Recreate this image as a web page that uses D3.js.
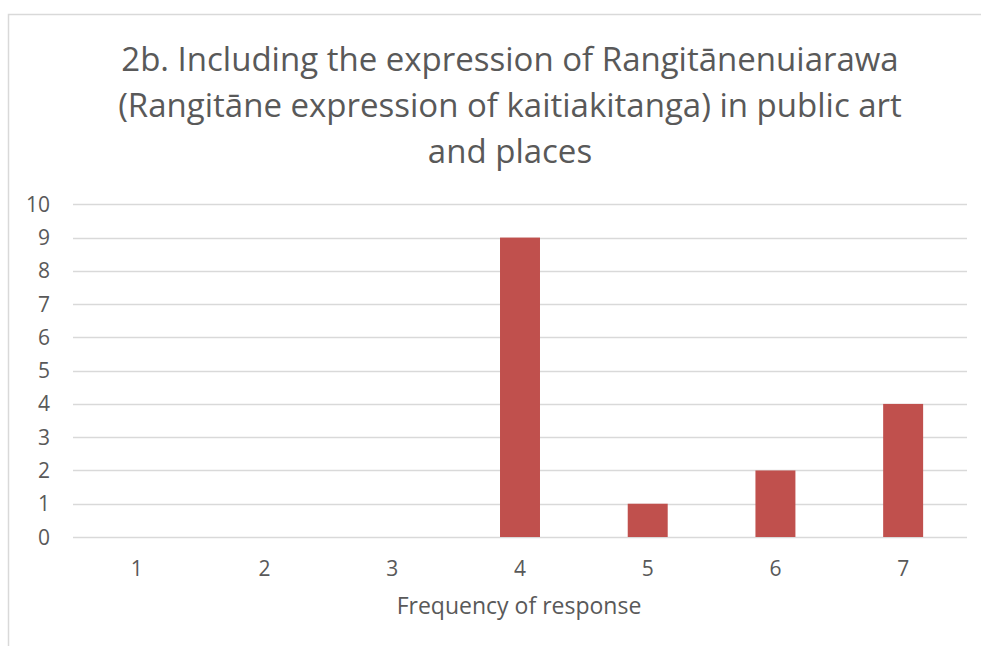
<!DOCTYPE html>
<html><head><meta charset="utf-8">
<script src="https://cdn.jsdelivr.net/npm/d3@7"></script>
<style>body{margin:0;background:#fff;} text{font-family:"Open Sans",sans-serif;fill:#595959;}</style>
</head><body>
<svg id="c" width="981" height="646"></svg>
<script>
const categories = ["1","2","3","4","5","6","7"];
const values = [0,0,0,9,1,2,4];
const yTicks = [0,1,2,3,4,5,6,7,8,9,10];
const titleLines = ["2b. Including the expression of Rangitānenuiarawa","(Rangitāne expression of kaitiakitanga) in public art","and places"];
const xTitle = "Frequency of response";

(function(){
const svg = d3.select("#c");
svg.append("rect").attr("x",8.5).attr("y",14.5).attr("width",1100).attr("height",800)
  .attr("fill","#fff").attr("stroke","#D9D9D9").attr("stroke-width",1.5);

const pLeft=73, pRight=967, pTop=204.3, pBottom=537;
const x = d3.scaleBand().domain(categories).range([pLeft,pRight]).paddingInner(0.687).paddingOuter(0.3435);
const y = d3.scaleLinear().domain([0,10]).range([pBottom,pTop]);

const g = svg.append("g");
g.selectAll("line.grid").data(yTicks).enter().append("line")
  .attr("x1",pLeft).attr("x2",pRight).attr("y1",d=>Math.round(y(d))+0.5).attr("y2",d=>Math.round(y(d))+0.5)
  .attr("stroke","#D9D9D9").attr("stroke-width",1.3);

g.selectAll("rect.bar").data(values).enter().append("rect")
  .attr("x",(d,i)=>x(categories[i])).attr("width",x.bandwidth())
  .attr("y",d=>y(d)).attr("height",d=>pBottom-y(d)).attr("fill","#C0504D");

g.selectAll("text.yt").data(yTicks).enter().append("text")
  .attr("x",50).attr("y",d=>y(d)).attr("dy","0.36em").attr("text-anchor","end")
  .attr("font-size",21).text(d=>d);

g.selectAll("text.xt").data(categories).enter().append("text")
  .attr("x",d=>x(d)+x.bandwidth()/2).attr("y",576).attr("text-anchor","middle")
  .attr("font-size",21).text(d=>d);

svg.append("text").attr("x",519).attr("y",614).attr("text-anchor","middle").attr("font-size",23).text(xTitle);

titleLines.forEach((t,i)=>{
  svg.append("text").attr("x",510).attr("y",70.7+i*46.3).attr("text-anchor","middle").attr("font-size",33).text(t);
});
})();
</script>
</body></html>
